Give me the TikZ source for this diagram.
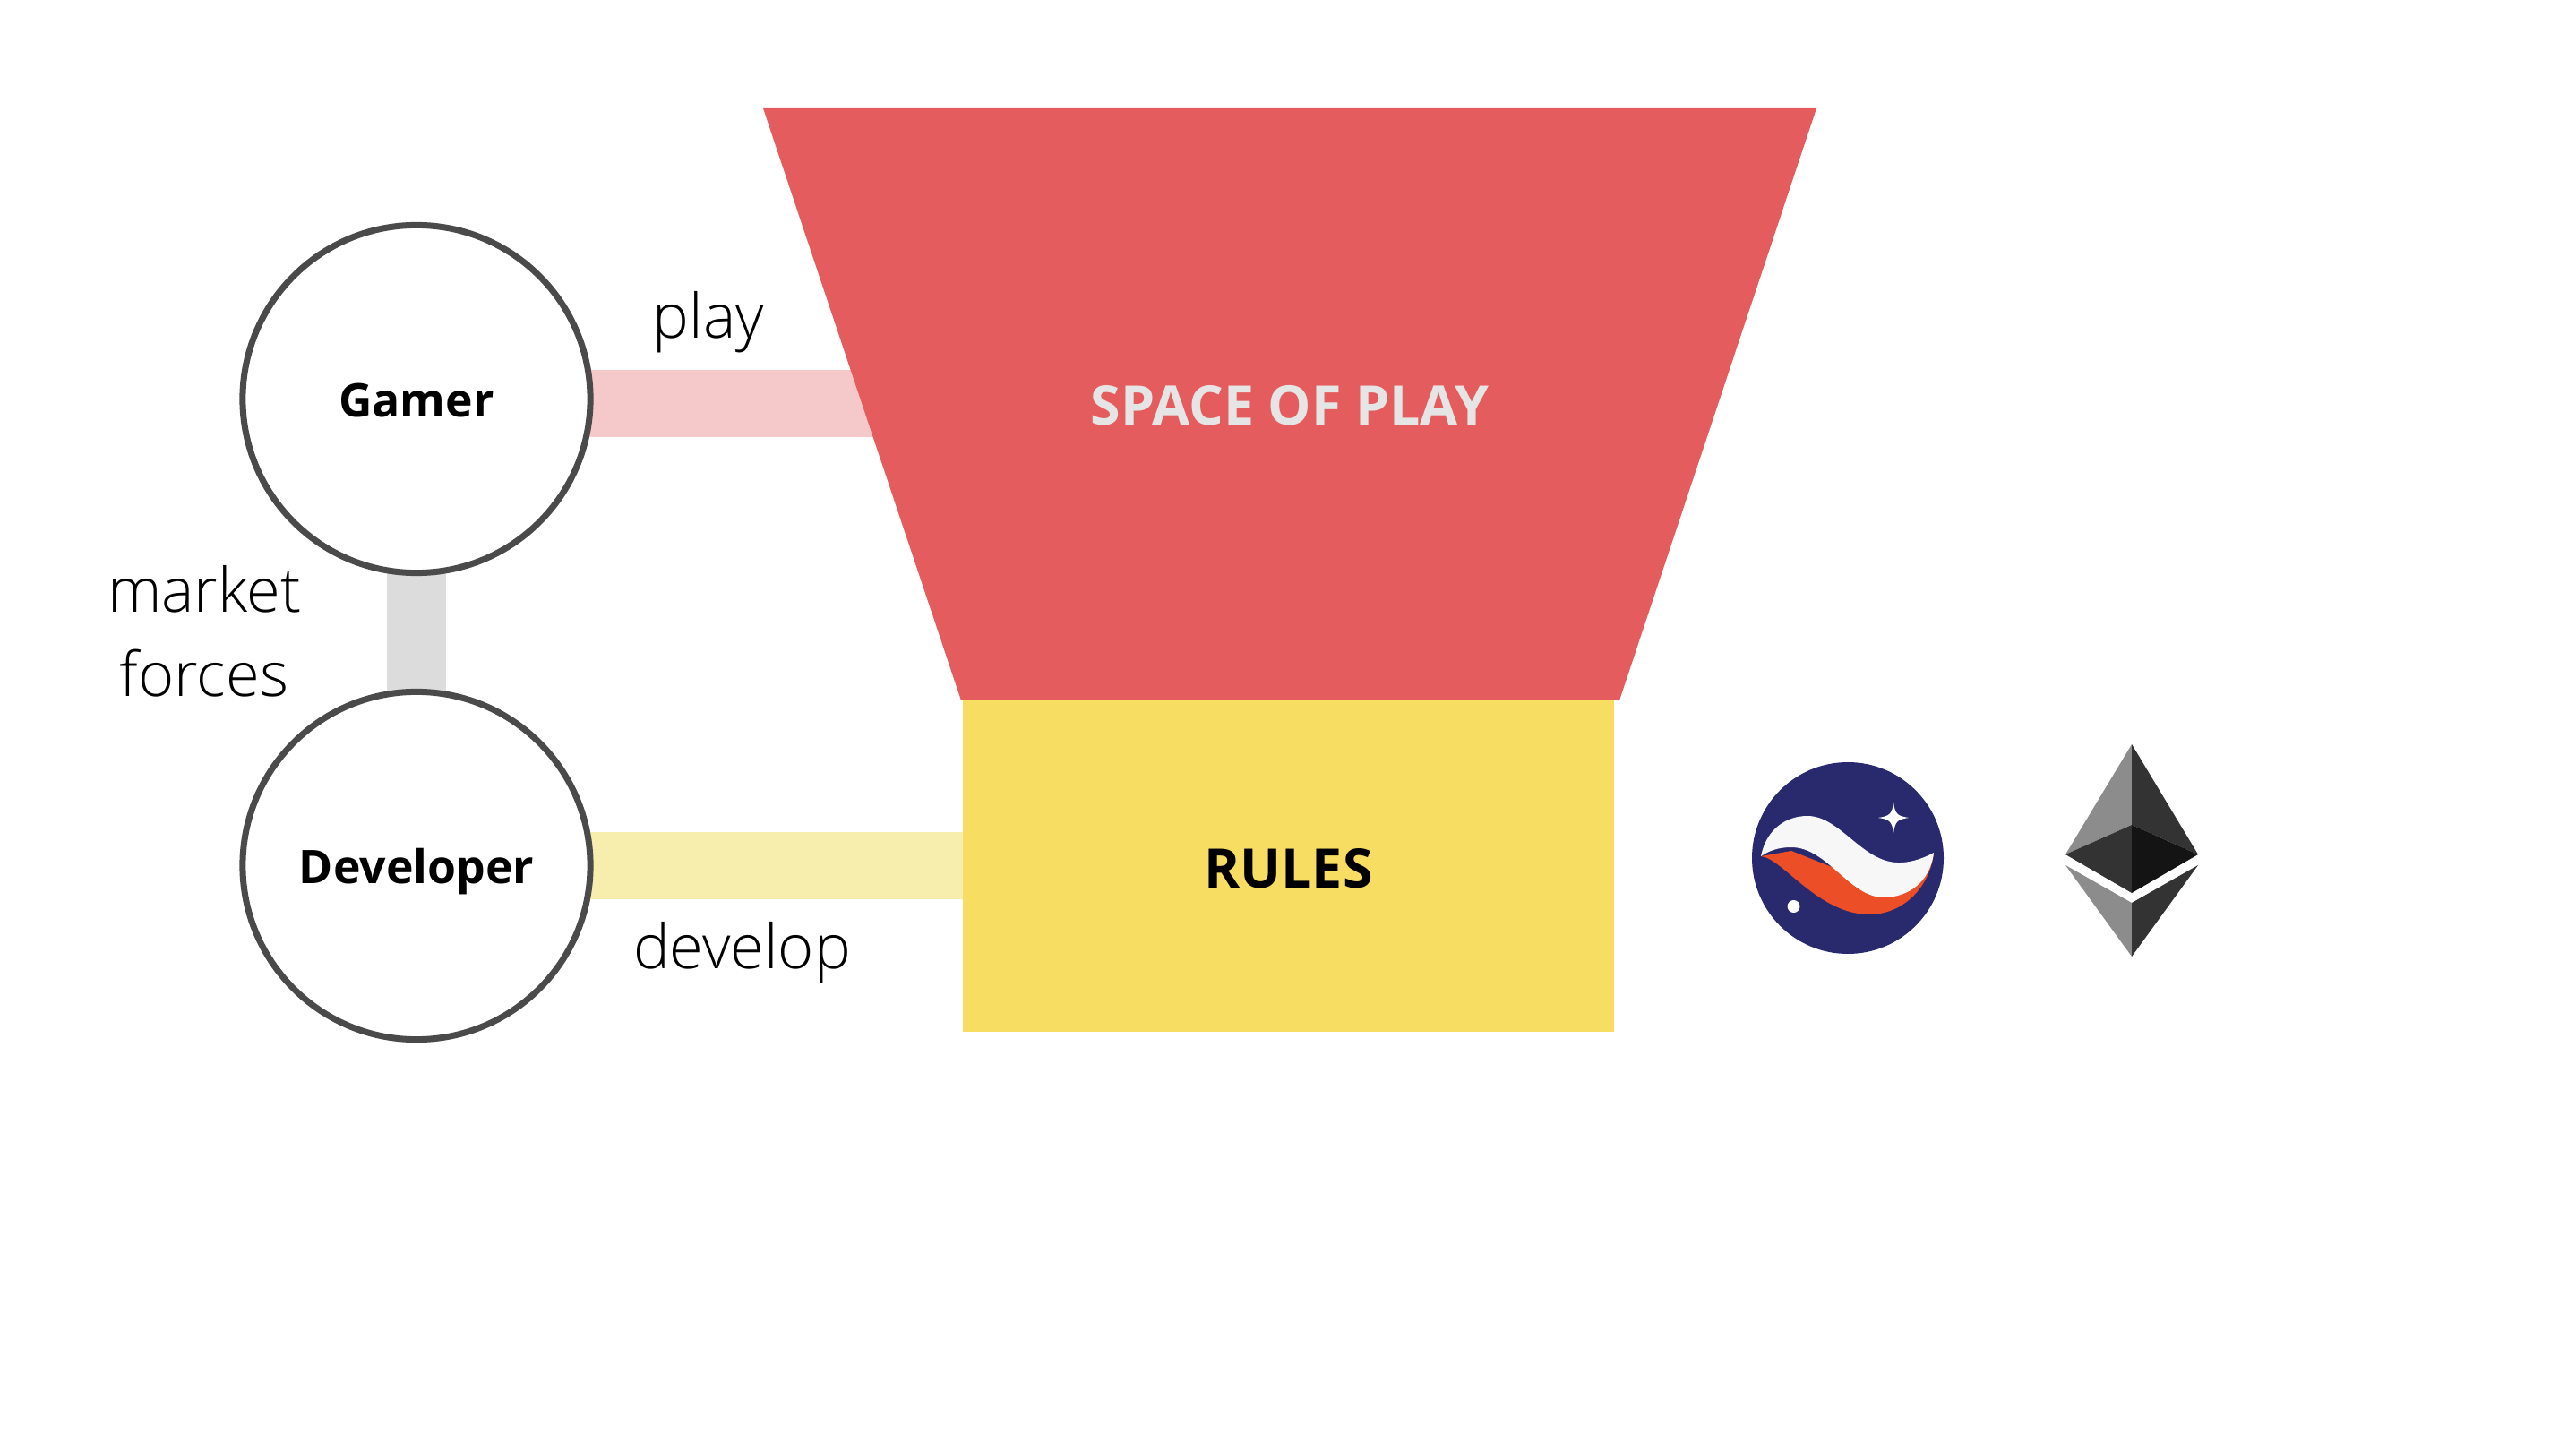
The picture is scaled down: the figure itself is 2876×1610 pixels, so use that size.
\documentclass[tikz,border=0pt]{standalone}
\usepackage{fontspec}
\setmainfont{Open Sans}
\newfontfamily\lightfont{Open Sans Light}
\usepackage{tikz}
\usetikzlibrary{backgrounds}
\definecolor{spacered}{RGB}{229,92,95}
\definecolor{rulesyellow}{RGB}{247,221,98}
\definecolor{playpink}{RGB}{245,198,199}
\definecolor{devyellow}{RGB}{247,237,172}
\definecolor{forcegray}{RGB}{220,220,220}
\definecolor{ringgray}{RGB}{74,74,74}
\definecolor{starkblue}{RGB}{41,41,110}
\definecolor{starkorange}{RGB}{236,79,39}
\tikzset{
  person/.style={
    circle,draw=ringgray,fill=white,line width=0.07cm,minimum size=3.88cm,inner sep=0,
    font=\fontsize{14.7}{18}\selectfont\bfseries,text height=11.5pt,text depth=0pt
  },
  word/.style={font=\lightfont\fontsize{19.5}{26.6}\selectfont,inner sep=0},
  title/.style={font=\fontsize{17.3}{20}\selectfont\bfseries}
}
\begin{document}
\begin{tikzpicture}[x=0.01cm,y=-0.01cm]
    \useasboundingbox (0,0) rectangle (2876,1610);
    % people
    \node[person] (gamer) at (465,445.5) {Gamer};
    \node[person] (developer) at (465,966.5) {Developer};
    % funnel
    \fill[spacered] (852,121) -- (2028,121) -- (1808,782) -- (1073,782) -- cycle;
    \node[title,text=white!90!black] (space) at (1440,453) {SPACE OF PLAY};
    \node[title,fill=rulesyellow,minimum width=7.26cm,minimum height=3.71cm,inner sep=0,text height=14pt,text depth=0pt] (rules) at (1438.5,966.5) {RULES};
    % connectors
    \coordinate (playend) at (1200,450.5);
    \begin{scope}[on background layer]
        \draw[playpink!97!white,line width=0.74cm] (gamer.center |- playend) -- (playend);
        \draw[devyellow,line width=0.74cm] (developer.center) -- (rules);
        \draw[forcegray,line width=0.66cm] (gamer.center) -- (developer.center);
    \end{scope}
    % labels
    \node[word,anchor=base] (play) at (791,378) {play};
    \node[word,anchor=base] (dev) at (828.5,1081) {develop};
    \node[word,anchor=base] (market) at (228,684) {market};
    \node[word,anchor=base] (forces) at (228,778) {forces};
    % starknet logo
    \fill[starkblue] (2063,958) circle (107);
    \fill[starkorange] (1966,956) .. controls (1990,958) and (2030,1021) .. (2087,1021)
        .. controls (2125,1021) and (2155,990) .. (2159,952) -- (2100,990) -- (2000,950) -- cycle;
    \fill[white!97!black] (1966,956) .. controls (1972,925) and (1995,911) .. (2018,911)
        .. controls (2055,911) and (2080,965) .. (2122,963)
        .. controls (2135,963) and (2150,957) .. (2159,952)
        .. controls (2155,985) and (2130,1002) .. (2103,1002)
        .. controls (2065,1002) and (2040,946) .. (2000,946)
        .. controls (1985,946) and (1975,950) .. (1966,956) -- cycle;
    \fill[white] (2114,896) .. controls (2116,909) and (2118,911) .. (2131,913)
        .. controls (2118,915) and (2116,917) .. (2114,930)
        .. controls (2112,917) and (2110,915) .. (2097,913)
        .. controls (2110,911) and (2112,909) .. (2114,896) -- cycle;
    \fill[white] (2002.5,1012) circle (7);
    % ethereum logo
    \fill[black!45] (2380,831) -- (2380,921) -- (2306,954) -- cycle;
    \fill[black!80] (2380,831) -- (2380,921) -- (2454,954) -- cycle;
    \fill[black!80] (2380,921) -- (2380,997) -- (2306,954) -- cycle;
    \fill[black!92] (2380,921) -- (2380,997) -- (2454,954) -- cycle;
    \fill[black!45] (2306,966) -- (2380,1008) -- (2380,1068) -- cycle;
    \fill[black!80] (2454,966) -- (2380,1008) -- (2380,1068) -- cycle;
\end{tikzpicture}
\end{document}
